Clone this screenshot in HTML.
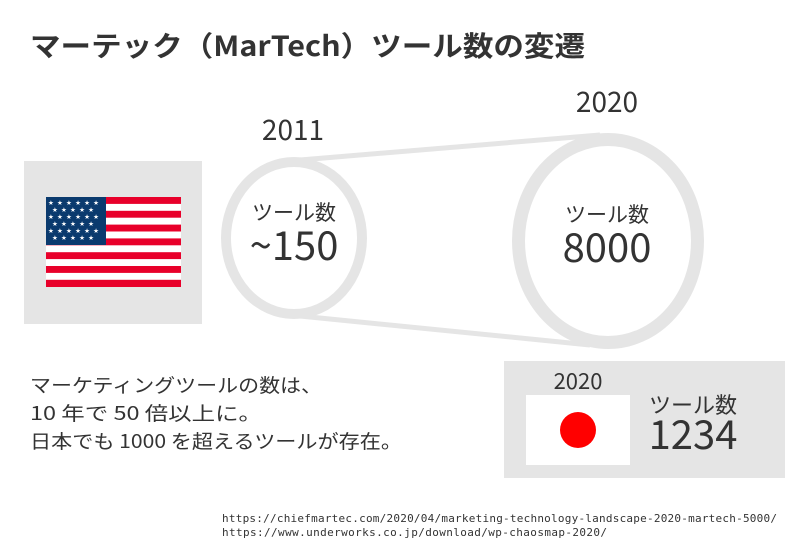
<!DOCTYPE html>
<html><head><meta charset="utf-8"><style>
html,body{margin:0;padding:0;background:#fff;width:807px;height:550px;overflow:hidden}
svg{display:block}
text{font-family:"Noto Sans CJK JP","Liberation Sans",sans-serif;fill:#333}
</style></head><body>
<svg width="807" height="550" viewBox="0 0 807 550">
<text x="30" y="56" font-size="28" font-weight="bold" fill="#222" textLength="555" lengthAdjust="spacingAndGlyphs">マーテック（MarTech）ツール数の変遷</text>
<rect x="24" y="161" width="178" height="163" fill="#e5e5e5"/>
<g>
<rect x="46" y="197" width="135" height="90" fill="#fff"/>
<g fill="#e8002a">
<rect x="46" y="197" width="135" height="6.9"/><rect x="46" y="210.8" width="135" height="6.9"/><rect x="46" y="224.6" width="135" height="6.9"/><rect x="46" y="238.4" width="135" height="6.9"/><rect x="46" y="252.2" width="135" height="6.9"/><rect x="46" y="266" width="135" height="6.9"/><rect x="46" y="279.8" width="135" height="7.2"/>
</g>
<rect x="46" y="197" width="60" height="48" fill="#0a3a6e"/>
<g>
<text x="48" y="205" style="fill:#fff;font-family:'DejaVu Sans',sans-serif" font-size="6.5" letter-spacing="3.2">★★★★★★</text>
<text x="52" y="212" style="fill:#fff;font-family:'DejaVu Sans',sans-serif" font-size="6.5" letter-spacing="3.2">★★★★★</text>
<text x="48" y="219" style="fill:#fff;font-family:'DejaVu Sans',sans-serif" font-size="6.5" letter-spacing="3.2">★★★★★★</text>
<text x="52" y="226" style="fill:#fff;font-family:'DejaVu Sans',sans-serif" font-size="6.5" letter-spacing="3.2">★★★★★</text>
<text x="48" y="233" style="fill:#fff;font-family:'DejaVu Sans',sans-serif" font-size="6.5" letter-spacing="3.2">★★★★★★</text>
<text x="52" y="240" style="fill:#fff;font-family:'DejaVu Sans',sans-serif" font-size="6.5" letter-spacing="3.2">★★★★★</text>
</g>
</g>
<g stroke="#e5e5e5" fill="none">
<line x1="300" y1="160" x2="600" y2="135" stroke-width="5"/>
<line x1="300" y1="316" x2="590" y2="345" stroke-width="5"/>
<ellipse cx="294" cy="238" rx="68" ry="76" stroke-width="10" fill="#fff"/>
<ellipse cx="608" cy="241" rx="89.5" ry="101.5" stroke-width="13" fill="#fff"/>
</g>
<text x="293" y="140" font-size="28" text-anchor="middle">2011</text>
<text x="607" y="112" font-size="28" text-anchor="middle">2020</text>
<text x="294" y="220" font-size="21" text-anchor="middle">ツール数</text>
<text x="294" y="260" font-size="40" text-anchor="middle">~150</text>
<text x="607" y="222" font-size="21" text-anchor="middle">ツール数</text>
<text x="607" y="262" font-size="40" text-anchor="middle">8000</text>
<text x="30" y="392" font-size="19" textLength="292" lengthAdjust="spacingAndGlyphs">マーケティングツールの数は、</text>
<text x="30" y="420" font-size="19" textLength="232" lengthAdjust="spacingAndGlyphs">10 年で 50 倍以上に。</text>
<text x="30" y="448" font-size="19" textLength="372" lengthAdjust="spacingAndGlyphs">日本でも 1000 を超えるツールが存在。</text>
<rect x="504" y="361" width="281" height="117" fill="#e5e5e5"/>
<rect x="526" y="395" width="104" height="70" fill="#fff"/>
<circle cx="578" cy="430" r="18" fill="#ff0000"/>
<text x="578" y="389" font-size="22" text-anchor="middle">2020</text>
<text x="693" y="413" font-size="22" text-anchor="middle">ツール数</text>
<text x="693" y="449" font-size="40" text-anchor="middle">1234</text>
<text x="222" y="522" font-size="11" style="font-family:'DejaVu Sans Mono','Liberation Mono',monospace" textLength="555">https://chiefmartec.com/2020/04/marketing-technology-landscape-2020-martech-5000/</text>
<text x="222" y="536" font-size="11" style="font-family:'DejaVu Sans Mono','Liberation Mono',monospace" textLength="385">https://www.underworks.co.jp/download/wp-chaosmap-2020/</text>
</svg>
</body></html>
